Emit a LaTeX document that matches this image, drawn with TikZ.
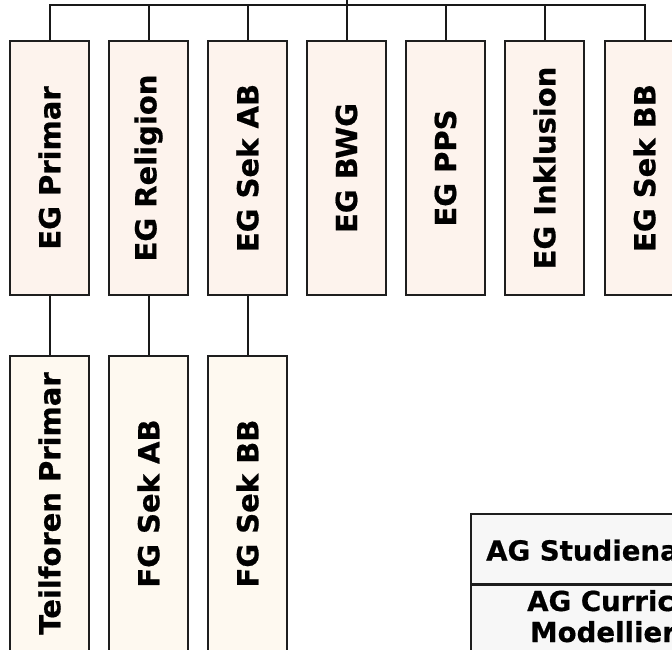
\documentclass[tikz,border=0pt]{standalone}
\usepackage{fontspec}
\setmainfont{DejaVu Sans}[BoldFeatures={FakeBold=0.6}]
\definecolor{boxpink}{RGB}{253,243,237}
\definecolor{boxcream}{RGB}{254,249,240}
\definecolor{aggray}{RGB}{247,247,247}
\definecolor{edge}{RGB}{30,30,30}
\tikzset{
  egbox/.style={draw=edge, line width=1.5pt, fill=boxpink, minimum width=79pt, minimum height=254pt, inner sep=0pt},
  fgbox/.style={draw=edge, line width=1.5pt, fill=boxcream, minimum width=79pt, minimum height=295pt, inner sep=0pt},
  agrow/.style={draw=edge, line width=1.5pt, fill=aggray, anchor=north west, minimum width=300pt, inner sep=0pt},
  vlabel/.style={rotate=90, inner sep=0pt, font=\fontsize{29}{33}\selectfont\bfseries},
  aglabel/.style={anchor=base west, inner sep=0pt, font=\fontsize{27.6}{31}\selectfont\bfseries},
  conn/.style={draw=black!90, line width=2pt, line join=miter}
}
\begin{document}
\begin{tikzpicture}[x=1pt,y=-1pt]
\useasboundingbox (0,0) rectangle (672,649);
\clip (0,0) rectangle (672,649);
% upper row
\node[egbox] (p1) at (49.5,168) {};
\node[egbox] (p2) at (148.5,168) {};
\node[egbox] (p3) at (247.5,168) {};
\node[egbox] (p4) at (346.5,168) {};
\node[egbox] (p5) at (445.5,168) {};
\node[egbox] (p6) at (544.5,168) {};
\node[egbox] (p7) at (644.5,168) {};
\node[vlabel] (l1) at (p1) {EG Primar};
\node[vlabel] (l2) at (p2) {EG Religion};
\node[vlabel] (l3) at (p3) {EG Sek AB};
\node[vlabel] (l4) at (p4) {EG BWG};
\node[vlabel] (l5) at (p5) {EG PPS};
\node[vlabel] (l6) at (p6) {EG Inklusion};
\node[vlabel] (l7) at (p7) {EG Sek BB};
% lower row
\node[fgbox] (t1) at (49.5,503.5) {};
\node[fgbox] (t2) at (148.5,503.5) {};
\node[fgbox] (t3) at (247.5,503.5) {};
\node[vlabel] (m1) at (t1) {Teilforen Primar};
\node[vlabel] (m2) at (t2) {FG Sek AB};
\node[vlabel] (m3) at (t3) {FG Sek BB};
% bus
\coordinate (bus) at (346.5,5);
\coordinate (top) at (346.5,-5);
\draw[conn] (top) -- (bus);
\draw[conn] (p1.north) -- (p1.north |- bus) -- (p7.north |- bus) -- (p7.north);
\draw[conn] (p2.north) -- (p2.north |- bus);
\draw[conn] (p3.north) -- (p3.north |- bus);
\draw[conn] (p4.north) -- (p4.north |- bus);
\draw[conn] (p5.north) -- (p5.north |- bus);
\draw[conn] (p6.north) -- (p6.north |- bus);
\draw[conn] (p1.south) -- (t1.north);
\draw[conn] (p2.south) -- (t2.north);
\draw[conn] (p3.south) -- (t3.north);
% AG box
\node[agrow, minimum height=70pt] (ag1) at (470,513) {};
\node[agrow, minimum height=120pt] (ag2) at (ag1.south west) {};
\node[aglabel] (a1) at (486,560.5) {AG Studienangebot};
\node[aglabel] (a2) at (527,611) {AG Curriculum-};
\node[aglabel] (a3) at (530,642) {Modellierung};
\end{tikzpicture}
\end{document}
